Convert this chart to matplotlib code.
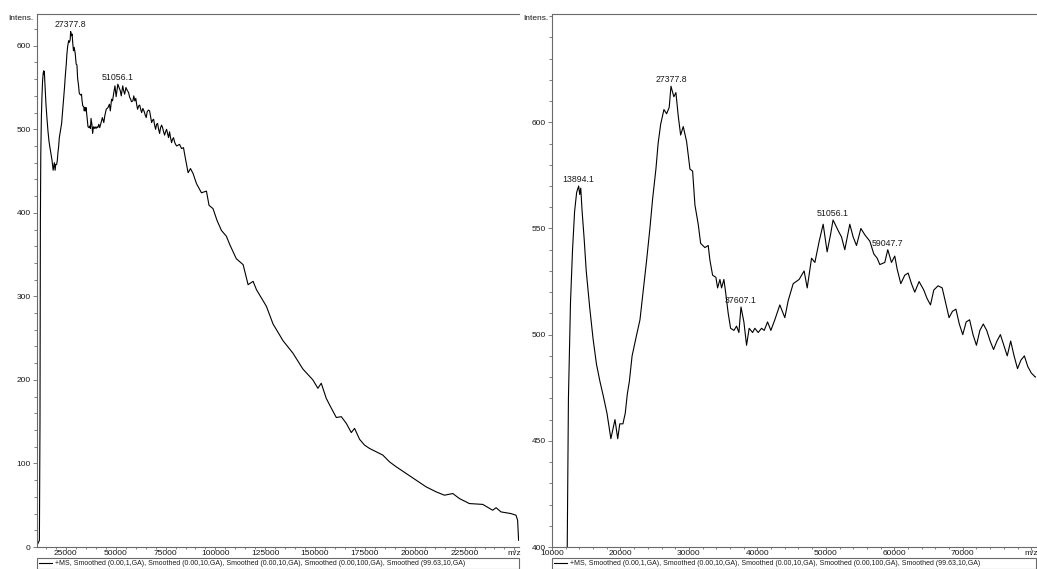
import numpy as np
import matplotlib.pyplot as plt
from matplotlib.ticker import MultipleLocator, FixedLocator

plt.rcParams['font.family'] = ['Liberation Sans', 'DejaVu Sans']

# spectrum (m/z, intensity)
mz = [10700, 11300, 11700, 12000, 12200, 12400, 12700, 13000, 13300, 13600,
      13894.1, 14050, 14200, 14400, 14700, 15000, 15500, 16000, 16500, 17000,
      17500, 18030, 18600, 19200, 19600, 19900, 20360, 20700, 21000, 21300,
      21700, 22300, 22850, 23300, 23820, 24300, 24700, 25180, 25500, 25870,
      26350, 26740, 27120, 27377.8, 27800, 28100, 28440, 28790, 29170, 29660,
      30150, 30540, 30880, 31360, 31710, 32340, 32820, 33070, 33460, 33940,
      34190, 34530, 34770, 35110, 35400, 35740, 36090, 36570, 36960, 37300,
      37607.1, 38030, 38420, 38800, 39300, 39630, 40120, 40610, 41000, 41490,
      41970, 42550, 43280, 44010, 44500, 45230, 46100, 46830, 47280, 47910,
      48400, 49030, 49610, 50190, 50680, 51056.1, 51800, 52290, 52770, 53500,
      53990, 54480, 55120, 55700, 56430, 57010, 57500, 57890, 58610, 59047.7,
      59590, 60070, 60410, 60950, 61530, 62020, 62510, 62990, 63620, 64310,
      64790, 65290, 65770, 66400, 67000, 67500, 68000, 68500, 69000, 69500,
      70000, 70500, 71000, 71500, 72000, 72500, 73000, 73500, 74000, 74500,
      75000, 75500, 76000, 76500, 77000, 77500, 78000, 78500, 79000, 79500,
      80000, 80600, 82000, 83000, 84000, 84650, 86300, 87500, 88800, 90500,
      93000, 95500, 96800, 98800, 100800, 103000, 105500, 107200, 110500, 113900,
      116400, 118900, 120600, 125600, 128900, 133900, 138900, 143900, 148900, 151400,
      153100, 155600, 157300, 160650, 163150, 165660, 168160, 169820, 172300, 174800,
      177300, 180700, 184000, 187300, 190700, 195700, 200700, 205700, 210750, 214900,
      219100, 222400, 227400, 234100, 239100, 240800, 243300, 248300, 250800, 251600,
      252100]
intens = [3, 6, 8, 150, 390, 470, 515, 540, 558, 567,
          570, 566, 569, 558, 545, 530, 513, 498, 486, 478,
          471, 463, 451, 460, 451, 458, 458, 463, 472, 478,
          490, 499, 507, 520, 535, 550, 564, 578, 590, 599,
          606, 604, 607, 617, 612, 614, 603, 594, 598, 591,
          578, 577, 561, 552, 543, 541, 542, 535, 528, 527,
          522, 526, 522, 526, 519, 510, 503, 502, 504, 501,
          513, 506, 495, 503, 501, 503, 501, 503, 502, 506,
          502, 507, 514, 508, 516, 524, 526, 530, 522, 536,
          534, 544, 552, 539, 547, 554, 549, 546, 540, 552,
          546, 542, 550, 547, 544, 538, 536, 533, 534, 540,
          534, 537, 531, 524, 528, 529, 524, 520, 525, 521,
          517, 514, 521, 523, 522, 515, 508, 511, 512, 505,
          500, 506, 507, 500, 495, 502, 505, 502, 497, 493,
          497, 500, 495, 490, 497, 490, 484, 488, 490, 485,
          482, 480, 482, 477, 478, 469, 448, 453, 447, 435,
          424, 426, 409, 405, 391, 379, 372, 362, 345, 338,
          314, 318, 308, 288, 267, 247, 232, 213, 200, 190,
          196, 178, 170, 155, 156, 148, 137, 142, 129, 122,
          118, 114, 110, 102, 96, 88, 80, 72, 66, 62,
          64, 58, 52, 51, 44, 47, 42, 40, 38, 32,
          8]

legend_text = ('+MS, Smoothed (0.00,1,GA), Smoothed (0.00,10,GA), Smoothed (0.00,10,GA), '
               'Smoothed (0.00,100,GA), Smoothed (99.63,10,GA)')

left_peaks = [27377.8, 51056.1]
right_peaks = [13894.1, 27377.8, 37607.1, 51056.1, 59047.7]

left_xticks = [25000, 50000, 75000, 100000, 125000, 150000, 175000, 200000, 225000, 250000]
left_xlabels = ['25000', '50000', '75000', '100000', '125000', '150000', '175000',
                '200000', '225000', 'm/z']
left_yticks = [0, 100, 200, 300, 400, 500, 600]

right_xticks = [10000, 20000, 30000, 40000, 50000, 60000, 70000, 80000]
right_xlabels = ['10000', '20000', '30000', '40000', '50000', '60000', '70000', 'm/z']
right_yticks = [400, 450, 500, 550, 600]

AXIS_GREY = '#6a6a6a'
TXT = '#1a1a1a'


def draw_panel(ax, xlim, ylim, xticks, xlabels, yticks, xminor, yminor, peaks):
    ax.plot(mz, intens, color='black', lw=0.8, label=legend_text)
    ax.set_xlim(*xlim)
    ax.set_ylim(*ylim)
    ax.xaxis.set_major_locator(FixedLocator(xticks))
    ax.set_xticklabels(xlabels)
    ax.yaxis.set_major_locator(FixedLocator(yticks))
    ax.xaxis.set_minor_locator(MultipleLocator(xminor))
    ax.yaxis.set_minor_locator(MultipleLocator(yminor))
    ax.spines['right'].set_visible(False)
    for s in ['top', 'left', 'bottom']:
        ax.spines[s].set_color(AXIS_GREY)
        ax.spines[s].set_linewidth(0.8)
    ax.tick_params(which='both', direction='out', color=AXIS_GREY, width=0.6,
                   labelsize=6, labelcolor=TXT)
    ax.tick_params(axis='y', which='major', length=3, pad=1.5)
    ax.tick_params(axis='y', which='minor', length=2)
    ax.tick_params(axis='x', which='major', length=2, pad=0.3)
    ax.tick_params(axis='x', which='minor', length=1.5)
    ax.text(-0.008, 1 - 4.0 / 533, 'Intens.', transform=ax.transAxes,
            ha='right', va='center', fontsize=6, color=TXT)
    for p in peaks:
        ax.annotate('%.1f' % p, xy=(p, np.interp(p, mz, intens)), xytext=(0, 1.5),
                    textcoords='offset points', ha='center', va='bottom',
                    fontsize=6.3, color=TXT)
    leg = ax.legend(loc='upper left', bbox_to_anchor=(0, -11.0 / 533, 1, 0.0001),
                    mode='expand', borderaxespad=0, fancybox=False, framealpha=1,
                    edgecolor=AXIS_GREY, fontsize=5, borderpad=0.3,
                    handlelength=1.9, handletextpad=0.35)
    leg.get_frame().set_linewidth(0.8)
    for t in leg.get_texts():
        t.set_color(TXT)


fig = plt.figure(figsize=(10.37, 5.69), dpi=100)
ax1 = fig.add_axes([37 / 1037, 22 / 569, 482 / 1037, 533 / 569])
ax2 = fig.add_axes([552 / 1037, 22 / 569, 484 / 1037, 533 / 569])

draw_panel(ax1, (10500, 252300), (0, 638), left_xticks, left_xlabels, left_yticks,
           5000, 20, left_peaks)
draw_panel(ax2, (10000, 80700), (400, 651), right_xticks, right_xlabels, right_yticks,
           2000, 10, right_peaks)

fig.savefig('out.png', dpi=100)
